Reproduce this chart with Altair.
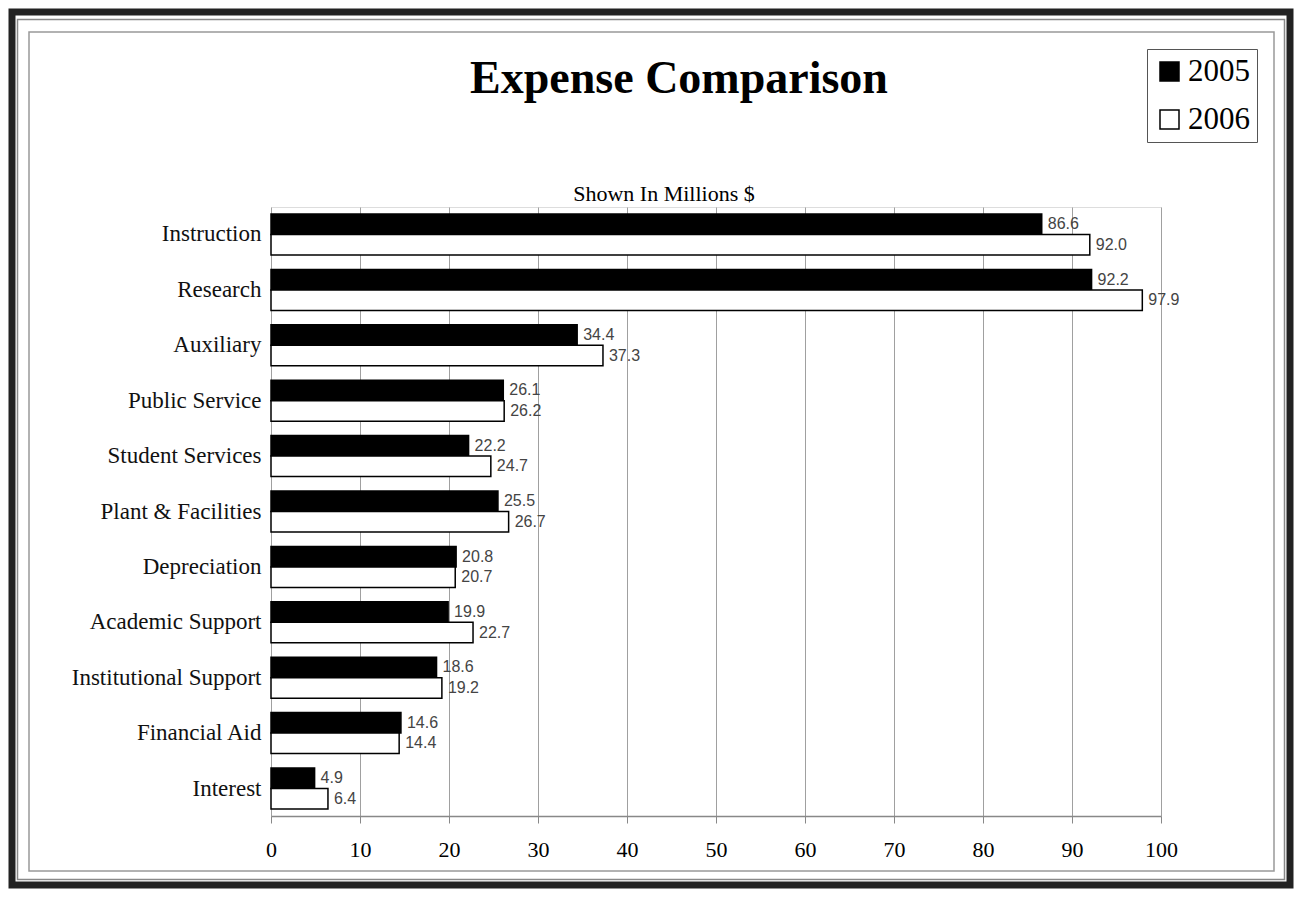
import altair as alt
import pandas as pd

categories = ["Instruction", "Research", "Auxiliary", "Public Service", "Student Services",
              "Plant & Facilities", "Depreciation", "Academic Support",
              "Institutional Support", "Financial Aid", "Interest"]
values_2005 = [86.6, 92.2, 34.4, 26.1, 22.2, 25.5, 20.8, 19.9, 18.6, 14.6, 4.9]
values_2006 = [92.0, 97.9, 37.3, 26.2, 24.7, 26.7, 20.7, 22.7, 19.2, 14.4, 6.4]
years = ["2005", "2006"]
x_ticks = [0, 10, 20, 30, 40, 50, 60, 70, 80, 90, 100]
title_text = "Expense Comparison"
subtitle_text = "Shown In Millions $"

rows = []
for c, a, b in zip(categories, values_2005, values_2006):
    rows.append({"category": c, "year": "2005", "value": a})
    rows.append({"category": c, "year": "2006", "value": b})
df = pd.DataFrame(rows)
df["label"] = df["value"].map(lambda v: f"{v:.1f}")

W, H = 890, 609

y_enc = alt.Y("category:N", sort=categories, title=None,
              scale=alt.Scale(paddingInner=0.26, paddingOuter=0.126),
              axis=alt.Axis(labelFont="Liberation Serif", labelFontSize=23, labelColor="#111",
                            labelPadding=10, ticks=False, domain=False, grid=False, labelLimit=320))
yoff = alt.YOffset("year:N", sort=years, scale=alt.Scale(paddingInner=0, paddingOuter=0))
x_enc = alt.X("value:Q", title=None, scale=alt.Scale(domain=[0, 100], nice=False),
              axis=alt.Axis(values=x_ticks, format="d", labelFont="Liberation Serif",
                            labelFontSize=22, labelColor="#000", labelPadding=16,
                            tickSize=7, tickColor="#888", domainColor="#888", domainWidth=1.5,
                            grid=True, gridColor="#a0a0a0", gridWidth=1, labelFlush=False))

base = alt.Chart(df)
bars = base.mark_bar(stroke="black", strokeWidth=1.5).encode(
    y=y_enc, yOffset=yoff, x=x_enc,
    fill=alt.Fill("year:N", scale=alt.Scale(domain=years, range=["#000000", "#ffffff"]),
                  legend=alt.Legend(title=None, orient="none", legendX=876, legendY=-158,
                                    direction="vertical", labelFont="Liberation Serif",
                                    labelFontSize=31, labelColor="#000", symbolType="square",
                                    symbolSize=361, symbolStrokeColor="black",
                                    symbolStrokeWidth=1.5, symbolOpacity=1,
                                    strokeColor="#555", fillColor="white", padding=7,
                                    rowPadding=16, labelOffset=3)),
)
labels = base.mark_text(align="left", baseline="middle", dx=6, font="Liberation Sans",
                        fontSize=16, color="#444").encode(
    y=y_enc, yOffset=yoff, x=x_enc, text="label:N")

one = pd.DataFrame({"k": [0]})


def frame(x, x2, y, y2, color, width):
    return alt.Chart(one).mark_rect(filled=False, stroke=color, strokeWidth=width).encode(
        x=alt.value(x), x2=alt.value(x2), y=alt.value(y), y2=alt.value(y2))


outer = frame(-259, 1019, -195, 678, "#222222", 7)
thin = frame(-253.5, 1013.5, -187.5, 672.5, "#888888", 1.5)
inner = frame(-242, 1003, -175, 664, "#999999", 1.5)

title = alt.Chart(one).mark_text(font="Liberation Serif", fontSize=46, fontWeight="bold",
                                 color="black", align="center", baseline="alphabetic").encode(
    x=alt.value(408), y=alt.value(-114), text=alt.value(title_text))
subtitle = alt.Chart(one).mark_text(font="Liberation Serif", fontSize=22, color="black",
                                    align="center", baseline="alphabetic").encode(
    x=alt.value(393), y=alt.value(-6), text=alt.value(subtitle_text))

chart = alt.layer(outer, thin, inner, title, subtitle, bars, labels).properties(
    width=W, height=H,
    padding={"left": 263, "top": 199, "right": 133, "bottom": 73},
    autosize=alt.AutoSizeParams(type="none"),
).configure_view(stroke=None).configure(background="white")

chart.save("out.html", embed_options={"renderer": "svg", "actions": False})
